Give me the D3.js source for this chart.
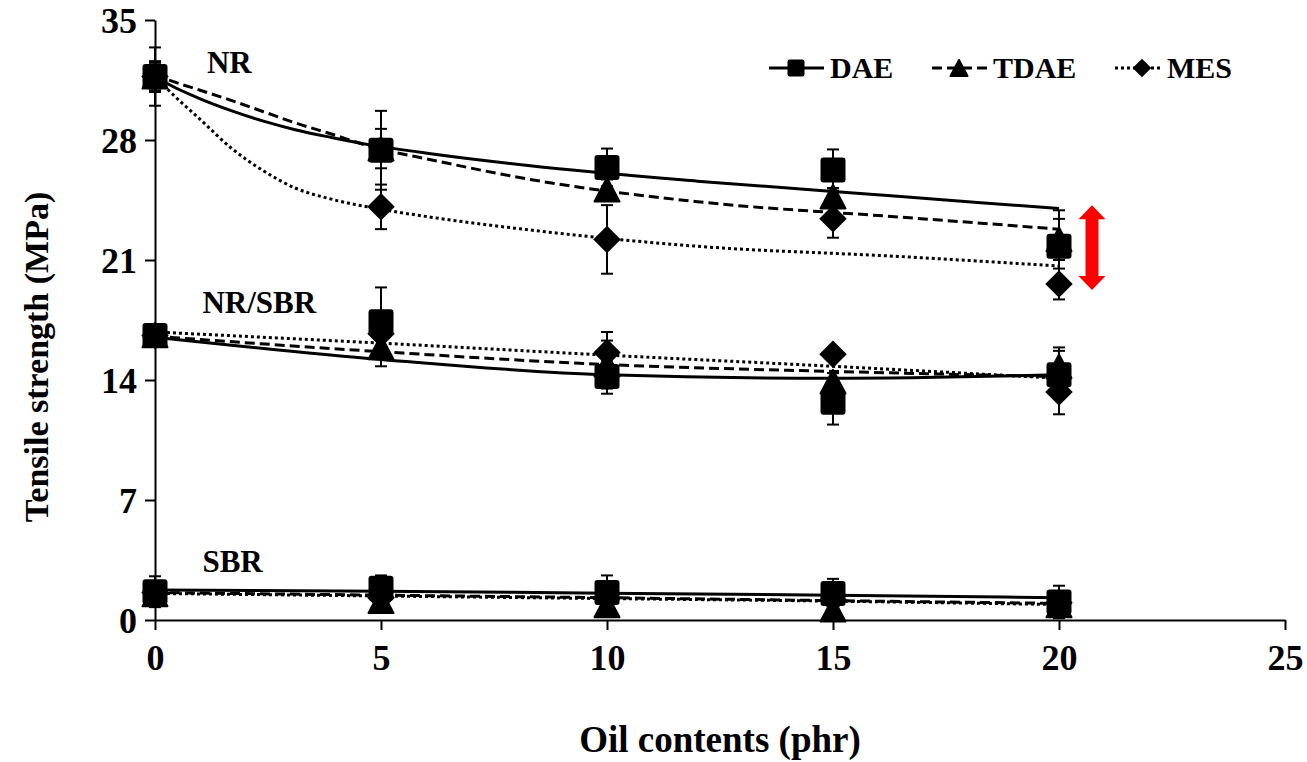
<!DOCTYPE html>
<html>
<head>
<meta charset="utf-8">
<script src="https://cdn.jsdelivr.net/npm/d3@7"></script>
<style>
  body { margin: 0; background: #fff; }
  text { font-family: "Liberation Serif", "Times New Roman", serif; font-weight: bold; fill: #000; }
</style>
</head>
<body>
<div id="chart"></div>
<script>
// oil contents (phr)
var oil = [0, 5, 10, 15, 20];
var xTicks = [0, 5, 10, 15, 20, 25];
var yTicks = [0, 7, 14, 21, 28, 35];
var oilNames = ["DAE", "TDAE", "MES"];

// measured tensile strength (MPa) and error bars
var nrDae = [31.7, 27.4, 26.4, 26.25, 21.8];
var nrDaeErr = [1.7, 2.3, 1.1, 1.2, 2.1];
var nrTdae = [31.7, 27.5, 25.1, 24.7, 22.2];
var nrTdaeErr = [0.9, 1.15, 0.6, 0.5, 1.2];
var nrMes = [31.7, 24.1, 22.2, 23.4, 19.6];
var nrMesErr = [0.8, 1.3, 2.0, 1.1, 0.9];

var blendDae = [16.6, 17.4, 14.2, 12.7, 14.3];
var blendDaeErr = [0.6, 2.0, 1.0, 1.3, 1.4];
var blendTdae = [16.6, 15.9, 14.9, 13.9, 14.8];
var blendTdaeErr = [0.5, 1.1, 1.4, 0.5, 1.1];
var blendMes = [16.6, 16.7, 15.6, 15.5, 13.3];
var blendMesErr = [0.5, 0.8, 1.2, 0.3, 1.3];

var sbrDae = [1.65, 1.85, 1.6, 1.55, 1.05];
var sbrDaeErr = [0.9, 0.75, 1.0, 0.85, 0.95];
var sbrTdae = [1.5, 1.1, 0.85, 0.6, 0.85];
var sbrTdaeErr = [0.4, 0.5, 0.5, 0.4, 0.5];
var sbrMes = [1.6, 1.3, 1.3, 1.2, 1.0];
var sbrMesErr = [0.3, 0.8, 0.5, 0.4, 0.4];

// trend lines
var nrFitX = [0, 0.3, 1, 1.7, 2.4, 3.1, 3.9, 4.8, 6.1, 8.3, 12, 16.5, 20];
var nrDaeFit = [31.7, 31.25, 30.4, 29.7, 29.1, 28.6, 28.15, 27.7, 27.2, 26.5, 25.6, 24.7, 24.0];
var nrTdaeFit = [31.8, 31.5, 30.9, 30.3, 29.65, 29.0, 28.35, 27.6, 26.85, 25.7, 24.4, 23.5, 22.8];
var nrMesFit = [31.7, 30.9, 29.2, 27.5, 26.2, 25.2, 24.55, 24.05, 23.5, 22.75, 21.8, 21.2, 20.65];

var blendDaeFit = [16.5, 15.2, 14.3, 14.1, 14.3];
var blendTdaeFit = [16.55, 15.65, 14.9, 14.5, 14.2];
var blendMesFit = [16.8, 16.15, 15.45, 14.8, 14.1];

var sbrDaeFit = [1.75, 1.68, 1.56, 1.45, 1.3];
var sbrTdaeFit = [1.6, 1.45, 1.3, 1.13, 0.97];
var sbrMesFit = [1.55, 1.4, 1.25, 1.1, 0.9];

// group labels: [text, x, y] in data units
var groupLabels = [["NR", 1.15, 31.9], ["NR/SBR", 1.05, 17.9], ["SBR", 1.05, 2.8]];
// red double arrow (data units)
var arrowX = 20.73, arrowY = [19.25, 24.2];

var width = 1307, height = 762;
var margin = {top: 20, right: 22, bottom: 142, left: 155};

var svg = d3.select("#chart").append("svg")
    .attr("width", width)
    .attr("height", height);

var x = d3.scaleLinear().domain([0, 25]).range([margin.left, width - margin.right]);
var y = d3.scaleLinear().domain([0, 35]).range([height - margin.bottom, margin.top]);

var lineStyle = {
    DAE: {dash: null},
    TDAE: {dash: "10,5"},
    MES: {dash: "3,3"}
};

// build series
var series = [];
function addGroup(fitX, vals, errs, fits) {
    oilNames.forEach(function(name, i) {
        series.push({
            name: name,
            points: oil.map(function(o, j) { return {x: o, y: vals[i][j], e: errs[i][j]}; }),
            fit: fitX.map(function(fx, j) { return [fx, fits[i][j]]; })
        });
    });
}
addGroup(nrFitX, [nrDae, nrTdae, nrMes], [nrDaeErr, nrTdaeErr, nrMesErr], [nrDaeFit, nrTdaeFit, nrMesFit]);
addGroup(oil, [blendDae, blendTdae, blendMes], [blendDaeErr, blendTdaeErr, blendMesErr], [blendDaeFit, blendTdaeFit, blendMesFit]);
addGroup(oil, [sbrDae, sbrTdae, sbrMes], [sbrDaeErr, sbrTdaeErr, sbrMesErr], [sbrDaeFit, sbrTdaeFit, sbrMesFit]);

// axes
var yAxis = svg.append("g")
    .attr("transform", "translate(" + margin.left + ",0)")
    .call(d3.axisLeft(y).tickValues(yTicks).tickSize(10).tickSizeOuter(0).tickPadding(8));
var xAxis = svg.append("g")
    .attr("transform", "translate(0," + y(0) + ")")
    .call(d3.axisBottom(x).tickValues(xTicks).tickSize(10).tickSizeOuter(0).tickPadding(14));
[xAxis, yAxis].forEach(function(a) {
    a.attr("font-family", null).attr("font-size", null);
    a.selectAll("path, line").attr("stroke", "#000").attr("stroke-width", 2);
    a.selectAll("text").style("font-size", "36px");
});
yAxis.selectAll("text").attr("dy", "0.34em");

// trend lines
var line = d3.line()
    .x(function(d) { return x(d[0]); })
    .y(function(d) { return y(d[1]); })
    .curve(d3.curveMonotoneX);

svg.append("g").selectAll("path")
    .data(series)
    .enter().append("path")
    .attr("d", function(d) { return line(d.fit); })
    .attr("fill", "none")
    .attr("stroke", "#000")
    .attr("stroke-width", 3)
    .attr("stroke-dasharray", function(d) { return lineStyle[d.name].dash; });

// error bars
var errG = svg.append("g");
series.forEach(function(s) {
    s.points.forEach(function(p) {
        var g = errG.append("g").attr("stroke", "#000").attr("stroke-width", 2);
        g.append("line")
            .attr("x1", x(p.x)).attr("x2", x(p.x))
            .attr("y1", y(p.y - p.e)).attr("y2", y(p.y + p.e));
        [p.y - p.e, p.y + p.e].forEach(function(v) {
            g.append("line")
                .attr("x1", x(p.x) - 6).attr("x2", x(p.x) + 6)
                .attr("y1", y(v)).attr("y2", y(v));
        });
    });
});

// markers
function drawMarker(g, name, cx, cy, s) {
    if (name === "DAE") {
        g.append("rect")
            .attr("x", cx - s / 2).attr("y", cy - s / 2)
            .attr("width", s).attr("height", s)
            .attr("rx", s * 0.12).attr("fill", "#000");
    } else if (name === "TDAE") {
        var h = s * 0.95;
        g.append("path")
            .attr("d", "M" + cx + "," + (cy - h / 2) + "L" + (cx + s / 2) + "," + (cy + h / 2) + "L" + (cx - s / 2) + "," + (cy + h / 2) + "Z")
            .attr("fill", "#000").attr("stroke", "#000").attr("stroke-width", 2).attr("stroke-linejoin", "round");
    } else {
        var r = s * 0.55;
        g.append("path")
            .attr("d", "M" + cx + "," + (cy - r) + "L" + (cx + r) + "," + cy + "L" + cx + "," + (cy + r) + "L" + (cx - r) + "," + cy + "Z")
            .attr("fill", "#000");
    }
}
var markG = svg.append("g");
["MES", "TDAE", "DAE"].forEach(function(name) {
    series.filter(function(s) { return s.name === name; }).forEach(function(s) {
        s.points.forEach(function(p) { drawMarker(markG, name, x(p.x), y(p.y), 25); });
    });
});

// group labels
svg.append("g").selectAll("text")
    .data(groupLabels)
    .enter().append("text")
    .attr("x", function(d) { return x(d[1]); })
    .attr("y", function(d) { return y(d[2]); })
    .style("font-size", "31px")
    .text(function(d) { return d[0]; });

// legend
var legendX = [769, 932, 1115];
var legend = svg.append("g");
oilNames.forEach(function(name, i) {
    var g = legend.append("g").attr("transform", "translate(" + legendX[i] + ",68)");
    g.append("line")
        .attr("x1", 0).attr("x2", name === "MES" ? 47 : 55)
        .attr("stroke", "#000").attr("stroke-width", 3)
        .attr("stroke-dasharray", lineStyle[name].dash);
    drawMarker(g, name, 27, 0, 17);
    g.append("text")
        .attr("x", name === "MES" ? 52 : 61)
        .attr("y", 10)
        .style("font-size", "30px")
        .text(name);
});

// red arrow annotation
var ax = x(arrowX), ay1 = y(arrowY[0]), ay2 = y(arrowY[1]);
var hw = 13.5, sw = 6.5, hl = 14;
svg.append("path")
    .attr("d", "M" + ax + "," + ay2 +
        "L" + (ax + hw) + "," + (ay2 + hl) + "L" + (ax + sw) + "," + (ay2 + hl) +
        "L" + (ax + sw) + "," + (ay1 - hl) + "L" + (ax + hw) + "," + (ay1 - hl) +
        "L" + ax + "," + ay1 +
        "L" + (ax - hw) + "," + (ay1 - hl) + "L" + (ax - sw) + "," + (ay1 - hl) +
        "L" + (ax - sw) + "," + (ay2 + hl) + "L" + (ax - hw) + "," + (ay2 + hl) + "Z")
    .attr("fill", "#ff0000");

// axis titles
svg.append("text")
    .attr("transform", "translate(48,357) rotate(-90)")
    .attr("text-anchor", "middle")
    .style("font-size", "34px")
    .text("Tensile strength (MPa)");
svg.append("text")
    .attr("x", 720)
    .attr("y", 752)
    .attr("text-anchor", "middle")
    .style("font-size", "37px")
    .text("Oil contents (phr)");
</script>
</body>
</html>
